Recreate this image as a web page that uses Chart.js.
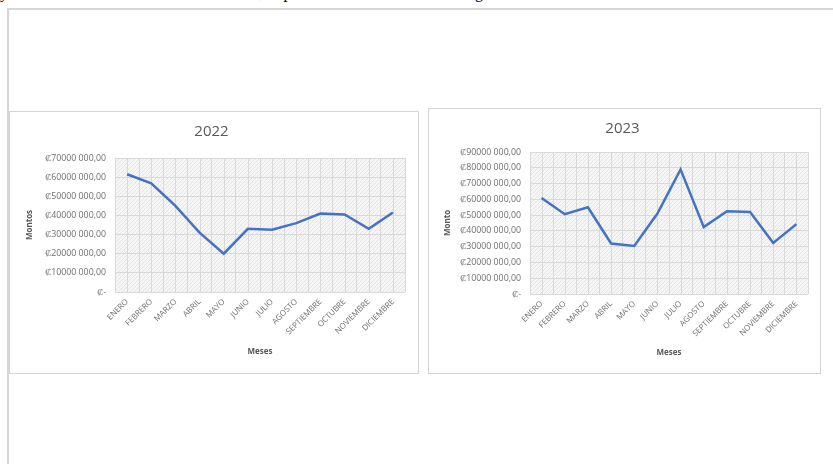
<!DOCTYPE html>
<html>
<head>
<meta charset="utf-8">
<script src="https://cdn.jsdelivr.net/npm/chart.js@4.4.1/dist/chart.umd.min.js"></script>
<style>
  html, body { margin: 0; padding: 0; background: #fff; width: 833px; height: 464px; overflow: hidden; position: relative; }
  .topline { position: absolute; left: 0; top: -15px; font: 16px "Liberation Serif", serif; line-height: 16px; color: #000; white-space: nowrap; }
  .frame { position: absolute; left: 7px; top: 8px; width: 900px; height: 500px; border-left: 2px solid #d6d6d6; border-top: 2px solid #d6d6d6; }
  .panel { position: absolute; background: #fff; border: 1px solid #d4d4d4; }
  #p1 { left: 9px; top: 111px; width: 408px; height: 261px; }
  #p2 { left: 428px; top: 108px; width: 391px; height: 264px; }
</style>
</head>
<body>
<div class="topline">y obtuvo los montos totales de cada mes, se puede ver a detalle en las dos gráficas.</div>
<div class="frame"></div>
<div class="panel" id="p1"><canvas id="chart2022"></canvas></div>
<div class="panel" id="p2"><canvas id="chart2023"></canvas></div>
<script>
// categories
const meses = ['ENERO', 'FEBRERO', 'MARZO', 'ABRIL', 'MAYO', 'JUNIO', 'JULIO', 'AGOSTO', 'SEPTIEMBRE', 'OCTUBRE', 'NOVIEMBRE', 'DICIEMBRE'];

// montos (colones)
const montos2022 = [61500000, 56800000, 45000000, 31000000, 20000000, 33000000, 32500000, 36000000, 41000000, 40500000, 33000000, 41500000];
const montos2023 = [60800000, 50600000, 55000000, 32000000, 30500000, 51000000, 79000000, 42400000, 52500000, 52000000, 32300000, 44300000];

const maxY2022 = 70000000;
const maxY2023 = 90000000;
const pasoY = 10000000;

const lineColor = '#4472c4';
const textGray = '#6f6f6f';
const titleGray = '#595959';
const gridGray = '#d9d9d9';

// ₡70000 000,00 style labels, zero shows as ₡-
function formatoColones(v) {
    if (v === 0) return '₡-';
    const miles = Math.floor(v / 1000);
    const resto = String(v % 1000).padStart(3, '0');
    return '₡' + miles + ' ' + resto + ',00';
}

// hatched plot background like the office chart style
function makeHatch() {
    const c = document.createElement('canvas');
    c.width = 4; c.height = 4;
    const g = c.getContext('2d');
    g.fillStyle = '#f6f6f6';
    g.fillRect(0, 0, 4, 4);
    g.strokeStyle = '#e4e4e4';
    g.lineWidth = 1;
    g.beginPath();
    g.moveTo(0, 4); g.lineTo(4, 0);
    g.stroke();
    return c;
}
const hatchCanvas = makeHatch();

const plotBackground = {
    id: 'plotBackground',
    beforeDraw(chart) {
        const { ctx, chartArea, scales } = chart;
        ctx.save();
        ctx.fillStyle = ctx.createPattern(hatchCanvas, 'repeat');
        ctx.fillRect(chartArea.left, chartArea.top, chartArea.right - chartArea.left, chartArea.bottom - chartArea.top);
        // minor vertical lines at each category center
        ctx.strokeStyle = gridGray;
        ctx.lineWidth = 1;
        meses.forEach((m, i) => {
            const x = Math.round(scales.x.getPixelForValue(i)) + 0.5;
            ctx.beginPath();
            ctx.moveTo(x, chartArea.top);
            ctx.lineTo(x, chartArea.bottom);
            ctx.stroke();
        });
        ctx.restore();
    }
};

function makeChart(id, titulo, yTitulo, datos, maxY, dims) {
    const ctx = document.getElementById(id).getContext('2d');
    return new Chart(ctx, {
        type: 'line',
        data: {
            labels: meses,
            datasets: [{
                data: datos,
                borderColor: lineColor,
                borderWidth: 2.5,
                pointRadius: 0,
                tension: 0,
                fill: false
            }]
        },
        options: {
            responsive: true,
            maintainAspectRatio: false,
            animation: false,
            layout: { padding: { left: 8, right: dims.right, top: 0, bottom: dims.bottom } },
            plugins: {
                legend: { display: false },
                tooltip: { enabled: false },
                title: {
                    display: true,
                    text: titulo,
                    color: titleGray,
                    font: { family: 'Open Sans', size: 15, weight: 'normal' },
                    padding: { top: 11, bottom: dims.titleBottom }
                }
            },
            scales: {
                x: {
                    offset: true,
                    grid: { color: gridGray, lineWidth: 1, offset: true, drawTicks: false },
                    border: { display: false },
                    ticks: {
                        color: textGray,
                        font: { family: 'Open Sans', size: 8 },
                        minRotation: 45,
                        maxRotation: 45,
                        autoSkip: false,
                        padding: 5
                    },
                    title: {
                        display: true,
                        text: 'Meses',
                        color: titleGray,
                        font: { family: 'Open Sans', size: 8, weight: 'bold' },
                        padding: { top: 0, bottom: 4 }
                    },
                    afterFit(scale) { scale.height = dims.xHeight; }
                },
                y: {
                    min: 0,
                    max: maxY,
                    grid: { color: gridGray, lineWidth: 1, drawTicks: false },
                    border: { display: false },
                    ticks: {
                        stepSize: pasoY,
                        color: textGray,
                        font: { family: 'Open Sans', size: 8.8 },
                        padding: 9,
                        callback: v => formatoColones(v)
                    },
                    title: {
                        display: true,
                        text: yTitulo,
                        color: titleGray,
                        font: { family: 'Open Sans', size: 8, weight: 'bold' },
                        padding: { top: dims.yTitlePad, bottom: 0 }
                    },
                    afterFit(scale) { scale.width = dims.yWidth; }
                }
            }
        },
        plugins: [plotBackground]
    });
}

makeChart('chart2022', '2022', 'Montos', montos2022, maxY2022,
    { right: 13, bottom: 12, titleBottom: 17, xHeight: 69, yWidth: 97, yTitlePad: 7 });
makeChart('chart2023', '2023', 'Monto', montos2023, maxY2023,
    { right: 12, bottom: 11, titleBottom: 14, xHeight: 68, yWidth: 93, yTitlePad: 6 });
</script>
</body>
</html>
